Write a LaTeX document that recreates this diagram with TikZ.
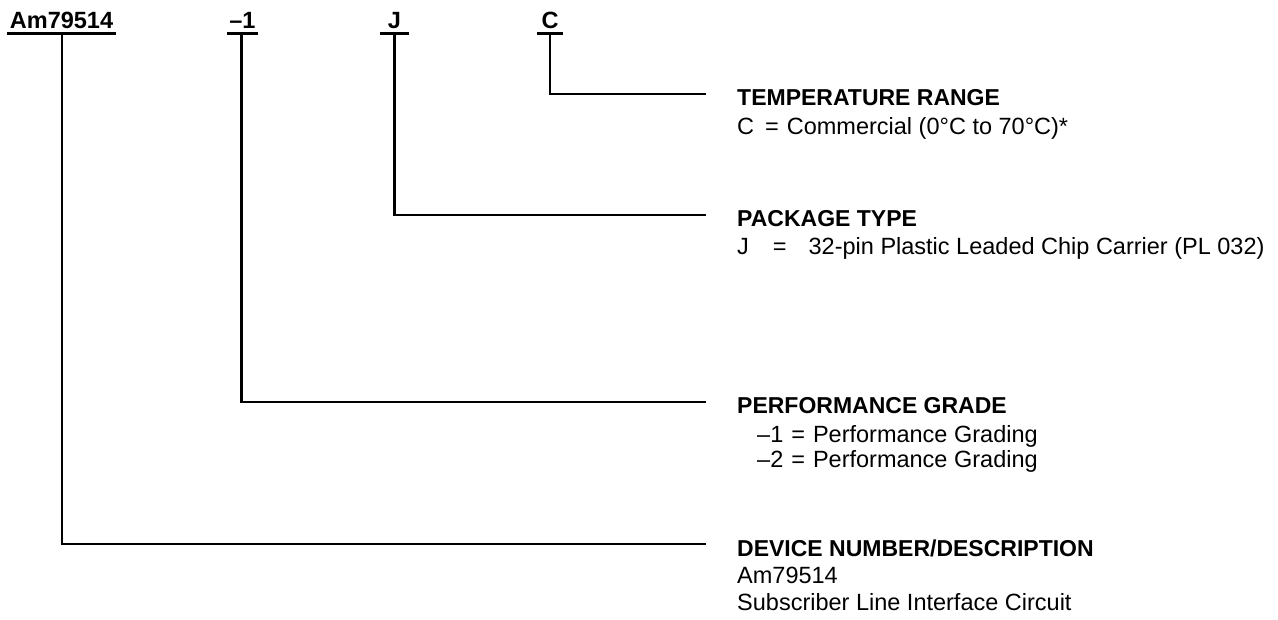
\documentclass[tikz,border=0pt]{standalone}
\usepackage{fontspec}
\setmainfont{Liberation Sans}
\begin{document}
\begin{tikzpicture}[x=1pt,y=-1pt,
  toplabel/.style={anchor=base,inner sep=0pt,font=\fontsize{23.5}{28}\selectfont\bfseries},
  heading/.style={anchor=base west,inner sep=0pt,font=\fontsize{23}{27}\selectfont\bfseries},
  bodytext/.style={anchor=base west,inner sep=0pt,font=\fontsize{23.5}{27}\selectfont},
  uline/.style={line width=2.5pt},
  conn/.style={line width=2.7pt}]
\useasboundingbox (0,0) rectangle (1278,619);
% top code labels
\node[toplabel] (lAm) at (61.5,28.5) {Am79514};
\node[toplabel] (l1) at (242.5,28.5) {–1};
\node[toplabel] (lJ) at (394.5,28.5) {J};
\node[toplabel] (lC) at (550,28.5) {C};
\draw[uline] (7,33.5) -- (116,33.5);
\draw[uline] (227,33.5) -- (258,33.5);
\draw[uline] (380,33.5) -- (409,33.5);
\draw[uline] (537,33.5) -- (563,33.5);
% connector endpoints
\coordinate (sAm) at (62,33.5);
\coordinate (s1) at (241.5,33.5);
\coordinate (sJ) at (394.5,33.5);
\coordinate (sC) at (550,33.5);
\coordinate (eC) at (706,94);
\coordinate (eJ) at (706,215);
\coordinate (e1) at (706,402);
\coordinate (eAm) at (706,544);
\draw[conn] (sC) |- (eC);
\draw[conn] (sJ) |- (eJ);
\draw[conn] (s1) |- (e1);
\draw[conn] (sAm) |- (eAm);
% descriptions
\node[heading] (hC) at (737,105) {TEMPERATURE RANGE};
\node[bodytext] (bC) at (737,134) {C\hspace{11pt}=\hspace{8pt}Commercial (0°C to 70°C)*};
\node[heading] (hJ) at (737,226) {PACKAGE TYPE};
\node[bodytext] (bJ) at (737,254) {J\hspace{24pt}=\hspace{22pt}32-pin Plastic Leaded Chip Carrier (PL 032)};
\node[heading] (h1) at (737,413) {PERFORMANCE GRADE};
\node[bodytext] (b1) at (757,442) {–1\hspace{8pt}=\hspace{8pt}Performance Grading};
\node[bodytext] (b2) at (757,467) {–2\hspace{8pt}=\hspace{8pt}Performance Grading};
\node[heading] (hAm) at (737,556) {DEVICE NUMBER/DESCRIPTION};
\node[bodytext] (bAm1) at (737,583) {Am79514};
\node[bodytext] (bAm2) at (737,610) {Subscriber Line Interface Circuit};
\end{tikzpicture}
\end{document}
